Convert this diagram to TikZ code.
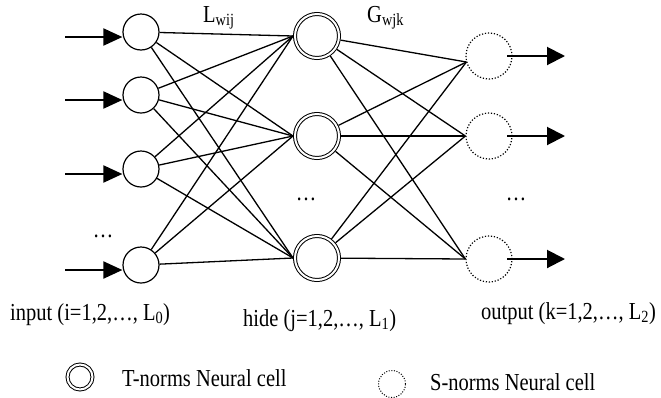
\documentclass[tikz,border=0pt]{standalone}
\usepackage{fontspec}
\setmainfont[FakeStretch=0.84]{Liberation Serif}
\usetikzlibrary{arrows.meta,calc}
\begin{document}
\begin{tikzpicture}[x=1pt,y=-1pt,
  cellin/.style={circle, draw, line width=1.2pt, minimum size=36pt, inner sep=0pt},
  cellT/.style={circle, draw, line width=1pt, double, double distance=2pt,
                minimum size=44pt, inner sep=0pt, outer sep=2pt},
  cellS/.style={circle, draw, line width=1.2pt, dash pattern=on 1.2pt off 1.8pt,
                minimum size=46pt, inner sep=0pt},
  link/.style={line width=1.3pt},
  feedin/.style={line width=2pt, -{Triangle[length=19pt,width=17pt]}},
  feedout/.style={line width=2pt, -{Triangle[length=18pt,width=18pt]}},
  lbl/.style={font=\fontsize{24.4pt}{28pt}\selectfont, inner sep=0pt},
]
\useasboundingbox (0,0) rectangle (661,397);

% input layer
\node[cellin] (in1) at (141,32) {};
\node[cellin] (in2) at (141,95) {};
\node[cellin] (in3) at (141,169) {};
\node[cellin] (in4) at (141,265) {};

% hidden layer (T-norms cells)
\node[cellT] (h1) at (317,36) {};
\node[cellT] (h2) at (317,136) {};
\node[cellT] (h3) at (317,258) {};

% output layer (S-norms cells)
\node[cellS] (o1) at (489,56) {};
\node[cellS] (o2) at (489,136) {};
\node[cellS] (o3) at (489,259) {};

% points where the hidden-to-output links meet
\coordinate (o1w) at ($(o1.west)+(1,6)$);
\coordinate (o2w) at (o2.west);
\coordinate (o3w) at (o3.west);

% input arrows
\foreach \i/\y in {1/37,2/100,3/174,4/270}{
  \coordinate (a\i) at (65,\y);
  \draw[feedin] (a\i) -- (a\i -| in\i.west);
}

% output arrows
\foreach \k in {1,2,3}{
  \coordinate (b\k) at ($(o\k.center)+(76,0)$);
  \draw[feedout] ($(o\k.center)+(18,0)$) -- (b\k);
}

% full connections
\foreach \i in {1,2,3,4}{
  \foreach \j in {1,2,3}{
    \draw[link] (in\i) -- (h\j.west);
  }
}
\foreach \j in {1,2,3}{
  \foreach \k in {1,2,3}{
    \draw[link] (h\j) -- (o\k w);
  }
}

% weight labels
\node[lbl, anchor=base west] (lw) at (203,22) {L\textsubscript{wij}};
\node[lbl, anchor=base west] (gw) at (367,22) {G\textsubscript{wjk}};

% ellipses
\node[lbl, anchor=base] (d1) at (103,237) {…};
\node[lbl, anchor=base] (d2) at (306,200) {…};
\node[lbl, anchor=base] (d3) at (516,200) {…};

% layer captions
\node[lbl, anchor=base west] (c1) at (10,320) {input (i=1,2,…, L\textsubscript{0})};
\node[lbl, anchor=base west] (c2) at (243,326) {hide (j=1,2,…, L\textsubscript{1})};
\node[lbl, anchor=base west] (c3) at (481,319) {output (k=1,2,…, L\textsubscript{2})};

% legend
\node[cellT, minimum size=25pt] (kT) at (80,377) {};
\node[lbl, anchor=base west] (tT) at (122,386) {T-norms Neural cell};
\node[cellS, minimum size=27pt, line width=1pt, dash pattern=on 1pt off 1.6pt] (kS) at (392,384) {};
\node[lbl, anchor=base west] (tS) at (430,390) {S-norms Neural cell};
\end{tikzpicture}
\end{document}
